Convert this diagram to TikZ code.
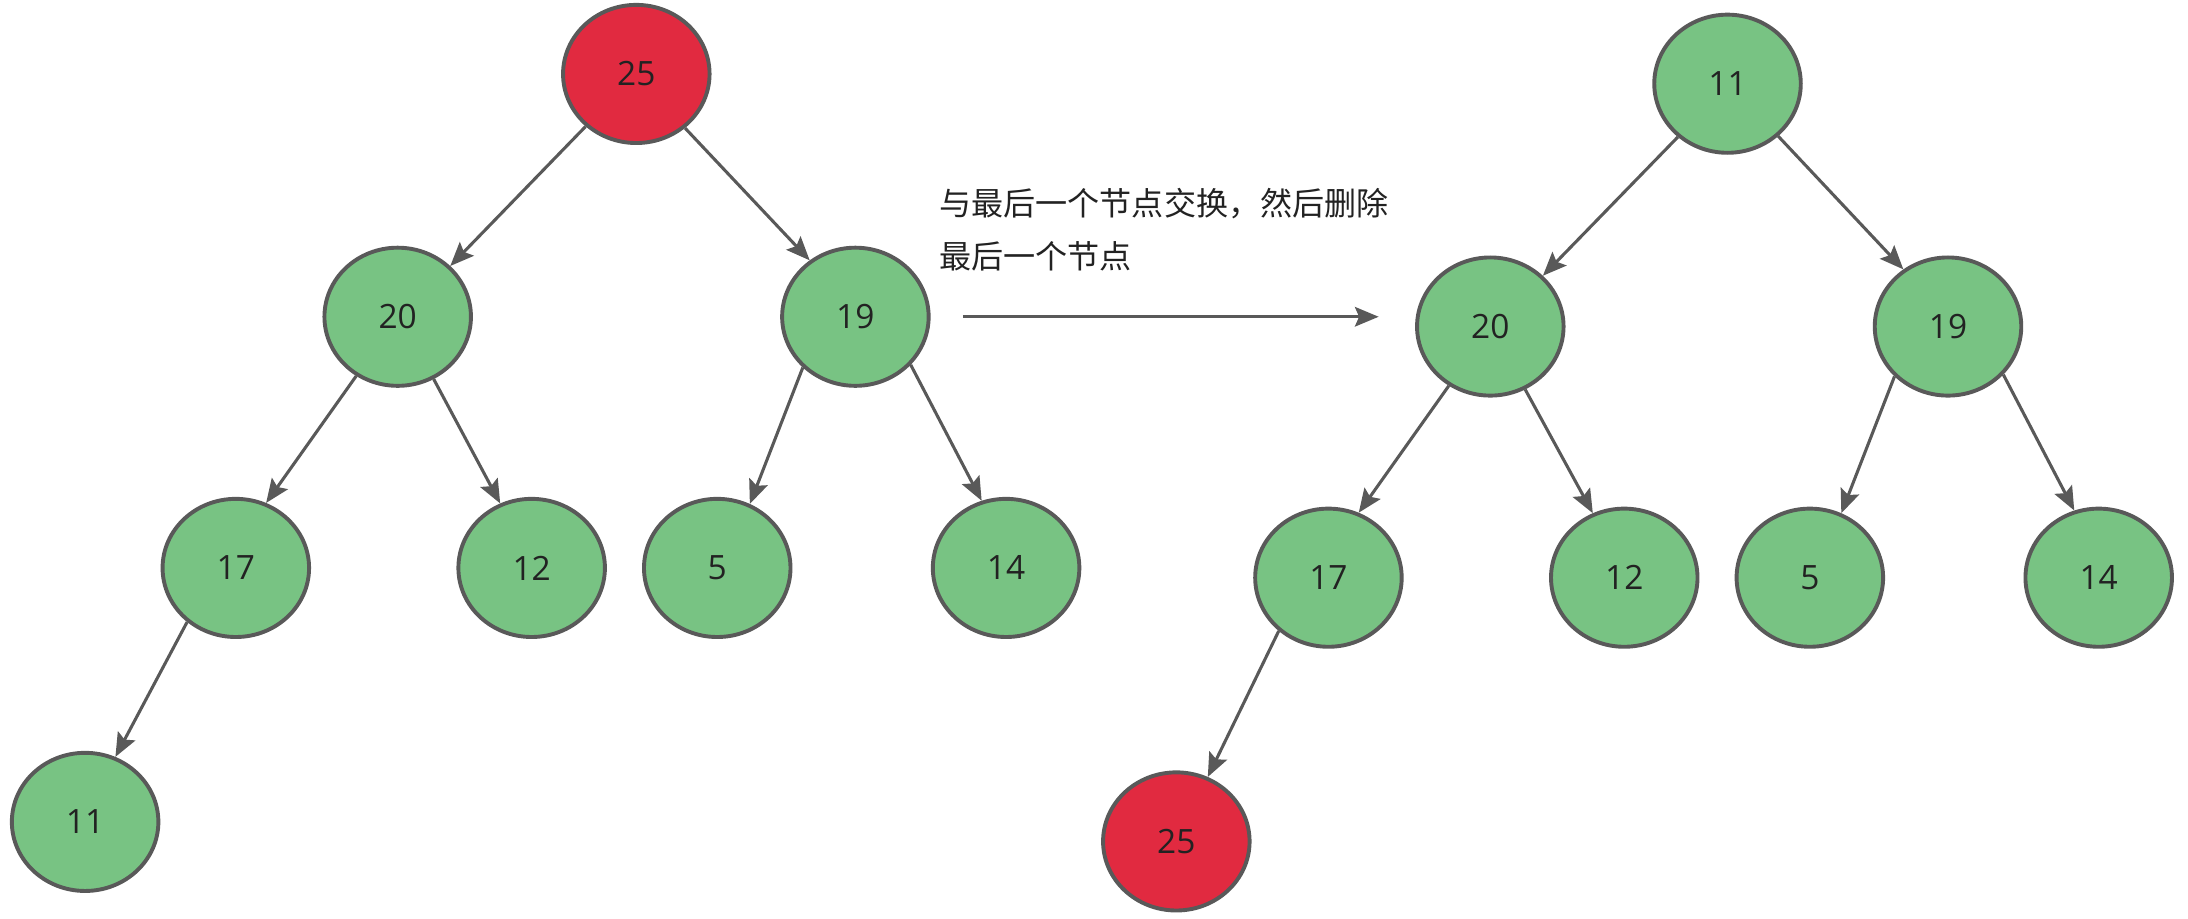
\documentclass[tikz,border=0pt]{standalone}
\usepackage{fontspec}
\setmainfont{Open Sans}
\newfontfamily\cjk{Noto Sans CJK SC}
\usetikzlibrary{shapes.geometric,arrows.meta}
\definecolor{nodegreen}{HTML}{78C383}
\definecolor{nodered}{HTML}{E12A40}
\definecolor{edgegray}{HTML}{595959}
\definecolor{txt}{HTML}{222222}
\tikzset{
  hnode/.style={ellipse, draw=edgegray, line width=2.8pt, minimum width=105pt, minimum height=99pt, inner sep=0pt, text=txt, font=\fontsize{24}{28}\selectfont},
  gnode/.style={hnode, fill=nodegreen},
  rnode/.style={hnode, fill=nodered},
  edge/.style={draw=edgegray, line width=2.2pt, -{Stealth[length=17pt,width=14pt,inset=3pt]}}
}
\begin{document}
\begin{tikzpicture}[x=1pt,y=-1pt]
\useasboundingbox (0,0) rectangle (1568,658);
% left tree
\node[rnode] (a25) at (456,53) {25};
\node[gnode] (a20) at (285,227) {20};
\node[gnode] (a19) at (613,227) {19};
\node[gnode] (a17) at (169,407) {17};
\node[gnode] (a12) at (381,407) {12};
\node[gnode] (a5) at (514,407) {5};
\node[gnode] (a14) at (721,407) {14};
\node[gnode] (a11) at (61,589) {11};
\draw[edge] (a25.226) -- (a20.44);
\draw[edge] (a25.312) -- (a19.129);
\draw[edge] (a20.235) -- (a17.65);
\draw[edge] (a20.300) -- (a12.116);
\draw[edge] (a19.224) -- (a5.63);
\draw[edge] (a19.319) -- (a14.110);
\draw[edge] (a17.228) -- (a11.65);
% right tree
\node[gnode] (b11) at (1238,60) {11};
\node[gnode] (b20) at (1068,234) {20};
\node[gnode] (b19) at (1396,234) {19};
\node[gnode] (b17) at (952,414) {17};
\node[gnode] (b12) at (1164,414) {12};
\node[gnode] (b5) at (1297,414) {5};
\node[gnode] (b14) at (1504,414) {14};
\node[rnode] (b25) at (843,603) {25};
\draw[edge] (b11.227) -- (b20.44);
\draw[edge] (b11.314) -- (b19.128);
\draw[edge] (b20.235) -- (b17.65);
\draw[edge] (b20.299) -- (b12.116);
\draw[edge] (b19.223) -- (b5.64);
\draw[edge] (b19.319) -- (b14.110);
\draw[edge] (b17.227) -- (b25.64);
% arrow and label
\coordinate (p1) at (690,227);
\coordinate (p2) at (988,227);
\draw[edge] (p1) -- (p2);
\node[anchor=north west, align=left, inner sep=0pt, text=txt, font=\cjk\fontsize{23}{38}\selectfont] (lbl) at (673,135) {与最后一个节点交换，然后删除\\最后一个节点};
\end{tikzpicture}
\end{document}
